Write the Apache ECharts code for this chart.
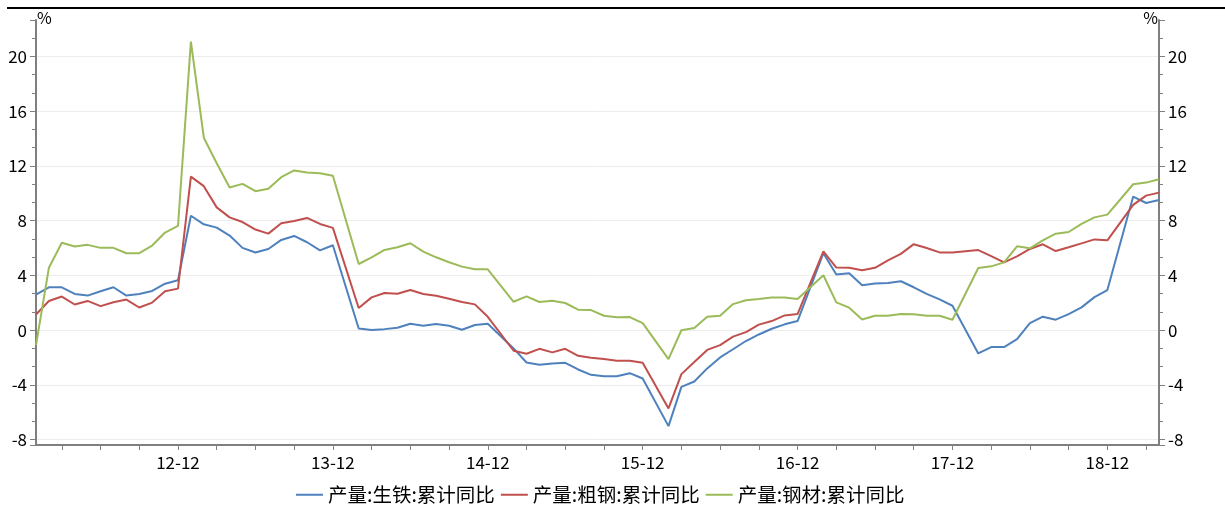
<!DOCTYPE html>
<html>
<head>
<meta charset="utf-8">
<script src="https://cdn.jsdelivr.net/npm/echarts@6/dist/echarts.min.js"></script>
<style>
html,body{margin:0;padding:0;background:#fff;}
#chart{width:1225px;height:505px;}
</style>
</head>
<body>
<div id="chart"></div>
<script>
// Months from 2012-01 to 2019-04, labels "yy-mm"
const categories = [];
for (let y = 12; y <= 19; y++) {
  for (let m = 1; m <= 12; m++) {
    if (y === 19 && m > 4) break;
    categories.push(y + '-' + (m < 10 ? '0' + m : '' + m));
  }
}

const seriesNames = ['产量:生铁:累计同比', '产量:粗钢:累计同比', '产量:钢材:累计同比'];

const pigIron = [
  2.59, 3.13, 3.13, 2.64, 2.52, 2.84, 3.13, 2.52, 2.64, 2.86, 3.39, 3.64,
  8.36, 7.73, 7.49, 6.91, 6.01, 5.67, 5.93, 6.59, 6.88, 6.42, 5.83, 6.20,
  null, 0.12, 0.00, 0.07, 0.17, 0.46, 0.32, 0.44, 0.32, 0.02, 0.37, 0.46,
  null, -1.34, -2.37, -2.54, -2.44, -2.39, -2.88, -3.27, -3.37, -3.37, -3.15, -3.54,
  null, -7.02, -4.15, -3.76, -2.80, -2.00, -1.40, -0.80, -0.32, 0.10, 0.42, 0.66,
  null, 5.62, 4.06, 4.16, 3.28, 3.40, 3.45, 3.57, 3.13, 2.65, 2.24, 1.78,
  null, -1.71, -1.24, -1.24, -0.66, 0.51, 0.98, 0.76, 1.17, 1.66, 2.41, 2.93,
  null, 9.76, 9.29, 9.51
];

const crudeSteel = [
  1.14, 2.13, 2.45, 1.87, 2.13, 1.75, 2.04, 2.23, 1.65, 2.01, 2.84, 3.03,
  11.22, 10.52, 8.97, 8.24, 7.90, 7.35, 7.05, 7.81, 7.98, 8.20, 7.76, 7.47,
  null, 1.61, 2.39, 2.71, 2.66, 2.93, 2.64, 2.51, 2.29, 2.05, 1.88, 0.97,
  null, -1.51, -1.73, -1.37, -1.63, -1.37, -1.88, -2.02, -2.12, -2.24, -2.24, -2.39,
  null, -5.73, -3.22, -2.34, -1.45, -1.10, -0.48, -0.15, 0.40, 0.66, 1.07, 1.17,
  null, 5.75, 4.57, 4.55, 4.38, 4.55, 5.09, 5.57, 6.28, 6.00, 5.68, 5.68,
  null, 5.85, 5.41, 4.95, 5.39, 5.93, 6.27, 5.78, 6.05, 6.34, 6.63, 6.56,
  null, 9.15, 9.83, 10.05
];

const steelProducts = [
  -1.10, 4.56, 6.38, 6.11, 6.23, 6.01, 6.01, 5.62, 5.62, 6.18, 7.13, 7.61,
  21.09, 14.06, 12.20, 10.42, 10.69, 10.15, 10.33, 11.18, 11.67, 11.52, 11.47, 11.28,
  null, 4.83, 5.32, 5.86, 6.05, 6.35, 5.74, 5.32, 4.96, 4.64, 4.45, 4.44,
  null, 2.07, 2.46, 2.05, 2.15, 1.98, 1.49, 1.46, 1.05, 0.93, 0.95, 0.51,
  null, -2.12, -0.01, 0.15, 0.98, 1.04, 1.90, 2.18, 2.28, 2.39, 2.39, 2.27,
  null, 4.01, 2.03, 1.64, 0.78, 1.05, 1.05, 1.17, 1.15, 1.05, 1.05, 0.76,
  null, 4.54, 4.66, 4.95, 6.12, 5.98, 6.56, 7.05, 7.17, 7.76, 8.24, 8.44,
  null, 10.66, 10.78, 11.02
];

const colors = ['#4f81bd', '#c0504d', '#9bbb59'];
const FONT = '"Noto Sans CJK SC", "Noto Sans", sans-serif';

const chart = echarts.init(document.getElementById('chart'), null, {renderer: 'canvas'});

function yAxisCfg(pos) {
  return {
    type: 'value',
    position: pos,
    min: -8.4,
    max: 68 / 3,
    minInterval: 4,
    maxInterval: 4,
    name: '%',
    nameLocation: 'end',
    nameGap: -6,
    nameTextStyle: {
      color: '#000', fontSize: 16, fontFamily: FONT,
      align: pos === 'left' ? 'left' : 'right',
      padding: pos === 'left' ? [0, 0, 0, 1] : [0, 1, 0, 0]
    },
    axisLine: {show: true, onZero: false, lineStyle: {color: '#7f7f7f', width: 2}},
    axisTick: {show: true, length: 6, lineStyle: {color: '#7f7f7f', width: 1}},
    minorTick: {show: true, splitNumber: 3, length: 4, lineStyle: {color: '#7f7f7f', width: 1}},
    axisLabel: {
      color: '#000', fontSize: 17, fontFamily: FONT, margin: 9,
      showMinLabel: false, showMaxLabel: false
    },
    splitLine: {
      show: pos === 'left', showMinLine: false, showMaxLine: false,
      lineStyle: {color: '#ececec', width: 1}
    },
    minorSplitLine: {show: false}
  };
}

const option = {
  animation: false,
  backgroundColor: '#fff',
  color: colors,
  graphic: [{
    type: 'line',
    shape: {x1: 7, y1: 8, x2: 1225, y2: 8},
    style: {stroke: '#000', lineWidth: 2}
  }],
  grid: {left: 36, right: 66, top: 20, bottom: 60, containLabel: false},
  legend: {
    left: 291,
    top: 480,
    icon: 'rect',
    itemWidth: 27,
    itemHeight: 2,
    itemGap: 6,
    textStyle: {color: '#000', fontSize: 19.5, fontFamily: FONT},
    data: seriesNames
  },
  xAxis: {
    type: 'category',
    data: categories,
    boundaryGap: false,
    axisLine: {onZero: false, lineStyle: {color: '#7f7f7f', width: 2}},
    axisTick: {
      show: true, length: 5, inside: false,
      interval: function (i) { return i % 3 === 2; },
      lineStyle: {color: '#7f7f7f', width: 1}
    },
    axisLabel: {
      color: '#000', fontSize: 17, fontFamily: FONT, margin: 9,
      interval: function (i) { return i % 12 === 11; }
    },
    splitLine: {show: false}
  },
  yAxis: [yAxisCfg('left'), yAxisCfg('right')],
  series: [
    {name: seriesNames[0], type: 'line', data: pigIron, yAxisIndex: 0},
    {name: seriesNames[1], type: 'line', data: crudeSteel, yAxisIndex: 0},
    {name: seriesNames[2], type: 'line', data: steelProducts, yAxisIndex: 0}
  ].map(function (s, k) {
    return Object.assign(s, {
      connectNulls: true,
      symbol: 'none',
      showSymbol: false,
      lineStyle: {width: 2, color: colors[k]},
      itemStyle: {color: colors[k]},
      emphasis: {disabled: true}
    });
  })
};

chart.setOption(option);
</script>
</body>
</html>
